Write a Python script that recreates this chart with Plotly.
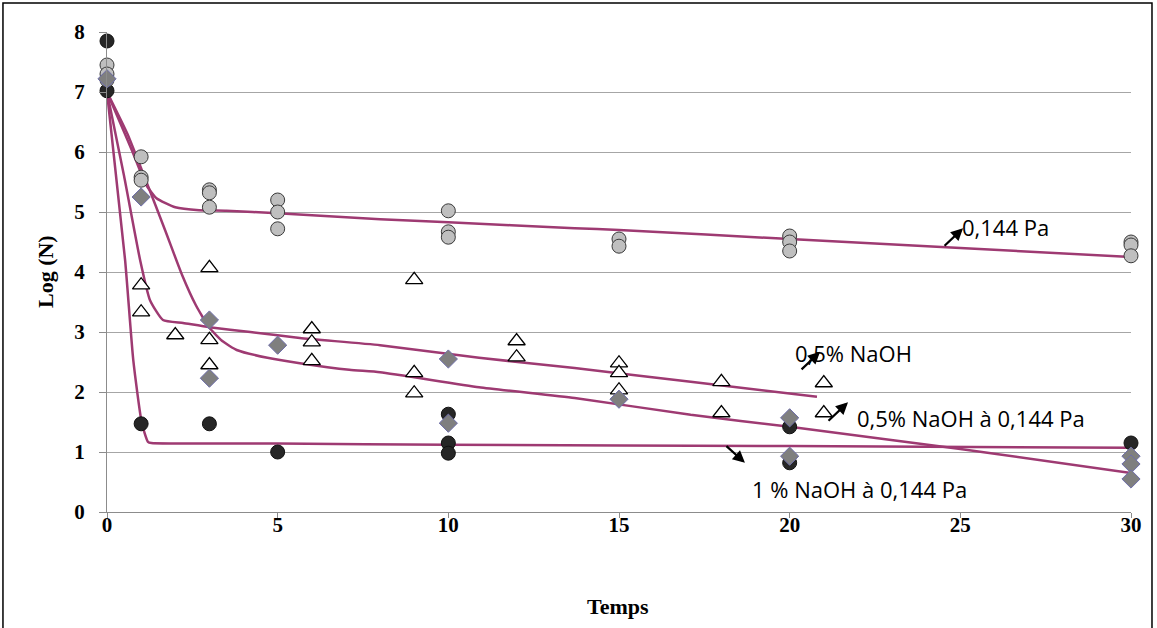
import plotly.graph_objects as go

# ---- data ----
# 0,144 Pa (light grey circles)
t_pa = [0, 0, 0, 1, 1, 1, 3, 3, 3, 5, 5, 5, 10, 10, 10, 15, 15, 20, 20, 20, 30, 30, 30]
v_pa = [7.45, 7.3, 7.2, 5.92, 5.58, 5.53, 5.37, 5.32, 5.08, 5.2, 5.0, 4.72, 5.02, 4.67, 4.58,
        4.55, 4.43, 4.6, 4.5, 4.35, 4.5, 4.45, 4.27]
# 1 % NaOH à 0,144 Pa (dark circles)
t_n1 = [0, 0, 1, 3, 5, 10, 10, 10, 20, 20, 30]
v_n1 = [7.85, 7.02, 1.47, 1.47, 1.0, 1.63, 1.15, 0.98, 1.42, 0.82, 1.15]
# 0,5% NaOH à 0,144 Pa (grey diamonds)
t_n5pa = [0, 1, 3, 3, 5, 10, 10, 15, 20, 20, 30, 30, 30]
v_n5pa = [7.22, 5.25, 3.2, 2.23, 2.78, 2.55, 1.48, 1.88, 1.57, 0.93, 0.93, 0.8, 0.55]
# 0,5% NaOH (white triangles)
t_n5 = [1, 1, 2, 3, 3, 3, 6, 6, 6, 9, 9, 9, 12, 12, 15, 15, 15, 18, 18, 21, 21]
v_n5 = [3.78, 3.33, 2.95, 4.07, 2.87, 2.45, 3.05, 2.83, 2.52, 3.87, 2.32, 1.98, 2.85, 2.58,
        2.48, 2.32, 2.03, 2.17, 1.65, 2.15, 1.65]

# fitted curves
ct_pa = [0, 0.3, 0.75, 1.15, 1.45, 2.0, 2.7, 3.5, 5, 8, 10, 13.7, 15, 20, 25, 30]
cv_pa = [7.0, 6.6, 6.0, 5.45, 5.23, 5.08, 5.03, 5.02, 4.98, 4.88, 4.83, 4.73, 4.7, 4.55, 4.4, 4.25]
ct_n5 = [0, 0.5, 0.97, 1.26, 1.64, 2.23, 3.0, 4.2, 5.65, 8, 10.9, 13.7, 17.1, 20.8]
cv_n5 = [7.0, 5.6, 4.2, 3.53, 3.2, 3.15, 3.08, 3.0, 2.9, 2.78, 2.57, 2.4, 2.17, 1.92]
ct_n5pa = [0, 0.6, 1.17, 1.7, 2.2, 2.6, 3.0, 3.4, 3.8, 4.7, 5.65, 7.1, 8, 10.9, 13.7, 17.1, 20, 25, 30]
cv_n5pa = [7.0, 6.3, 5.48, 4.7, 3.95, 3.45, 3.07, 2.84, 2.7, 2.57, 2.48, 2.37, 2.33, 2.08, 1.9, 1.62, 1.42, 1.05, 0.65]
ct_n1 = [0, 0.53, 0.77, 1.02, 1.2, 1.3, 5, 10, 20, 30]
cv_n1 = [7.0, 4.2, 2.53, 1.48, 1.17, 1.15, 1.14, 1.12, 1.1, 1.07]

y_ticks = [0, 1, 2, 3, 4, 5, 6, 7, 8]
x_ticks = [0, 5, 10, 15, 20, 25, 30]

CURVE = "#9E3A72"
fig = go.Figure()
for ct, cv in [(ct_pa, cv_pa), (ct_n5, cv_n5), (ct_n5pa, cv_n5pa), (ct_n1, cv_n1)]:
    fig.add_trace(go.Scatter(x=ct, y=cv, mode="lines",
                             line=dict(color=CURVE, width=2.5, shape="spline", smoothing=0.5),
                             showlegend=False, hoverinfo="skip"))

fig.add_trace(go.Scatter(x=t_n1, y=v_n1, mode="markers", showlegend=False, cliponaxis=False,
                         marker=dict(symbol="circle", size=14, color="#262626",
                                     line=dict(color="#111111", width=1))))
fig.add_trace(go.Scatter(x=t_pa, y=v_pa, mode="markers", showlegend=False, cliponaxis=False,
                         marker=dict(symbol="circle", size=14, color="#BFBFBF",
                                     line=dict(color="#3A3A3A", width=1))))
fig.add_trace(go.Scatter(x=t_n5, y=v_n5, mode="markers", showlegend=False, cliponaxis=False,
                         marker=dict(symbol="triangle-up", size=15, color="white",
                                     line=dict(color="black", width=1.3))))
fig.add_trace(go.Scatter(x=t_n5pa, y=v_n5pa, mode="markers", showlegend=False, cliponaxis=False,
                         marker=dict(symbol="diamond", size=14, color="#7F7F7F",
                                     line=dict(color="#6E6EAA", width=1))))

serif = dict(family="Liberation Serif", size=21, color="black", weight="bold")
label_font = dict(family="Open Sans", size=22, color="black")

annotations = [
    dict(text="Temps", x=0.499, y=-0.196, xref="paper", yref="paper", showarrow=False,
         xanchor="center", yanchor="middle",
         font=dict(family="Liberation Serif", size=22, color="black", weight="bold")),
    dict(text="Log (N)", x=-0.0605, y=0.5, xref="paper", yref="paper", showarrow=False,
         xanchor="center", yanchor="middle",
         textangle=-90, font=dict(family="Liberation Serif", size=22, color="black", weight="bold")),
    dict(text="0,144 Pa", x=24.99, y=4.75, xanchor="left", yanchor="middle", showarrow=False, font=label_font),
    dict(text="0,5% NaOH", x=20.1, y=2.65, xanchor="left", yanchor="middle", showarrow=False, font=label_font),
    dict(text="0,5% NaOH à 0,144 Pa", x=21.91, y=1.57, xanchor="left", yanchor="middle", showarrow=False, font=label_font),
    dict(text="1 % NaOH à 0,144 Pa", x=18.84, y=0.38, xanchor="left", yanchor="middle", showarrow=False, font=label_font),
]
for (xt, yt, ax, ay) in [(25.08, 4.73, -20, 19), (20.89, 2.67, -20, 19),
                         (21.71, 1.83, -21, 20), (18.69, 0.82, -20, -18)]:
    annotations.append(dict(text="", x=xt, y=yt, ax=ax, ay=ay, showarrow=True,
                            arrowhead=2, arrowsize=1.1, arrowwidth=2.2, arrowcolor="black"))

fig.update_layout(
    width=1157, height=628,
    margin=dict(l=107, r=26, t=32, b=116),
    paper_bgcolor="white", plot_bgcolor="white",
    showlegend=False,
    annotations=annotations,
    shapes=[dict(type="rect", xref="paper", yref="paper", x0=-0.1016, x1=1.0205, y0=-0.3, y1=1.0604,
                 line=dict(color="black", width=1.5), fillcolor="rgba(0,0,0,0)", layer="below")],
    xaxis=dict(range=[0, 30], tickvals=x_ticks, ticktext=[str(v) for v in x_ticks],
               showgrid=False, zeroline=False, showline=True, linecolor="#8C8C8C", linewidth=1.3,
               ticks="outside", ticklen=5, tickcolor="#8C8C8C", tickfont=serif,
               ticklabelstandoff=-11),
    yaxis=dict(range=[0, 8], tickvals=y_ticks, ticktext=[str(v) for v in y_ticks],
               showgrid=True, gridcolor="#A6A6A6", gridwidth=1.3, zeroline=False,
               showline=True, linecolor="#8C8C8C", linewidth=1.3,
               ticks="outside", ticklen=7, tickcolor="#8C8C8C", tickfont=serif,
               ticklabelstandoff=10),
)

fig.write_html("out.html", config={"displayModeBar": False},
               post_script="document.body.style.margin='0';document.body.style.padding='0';")
